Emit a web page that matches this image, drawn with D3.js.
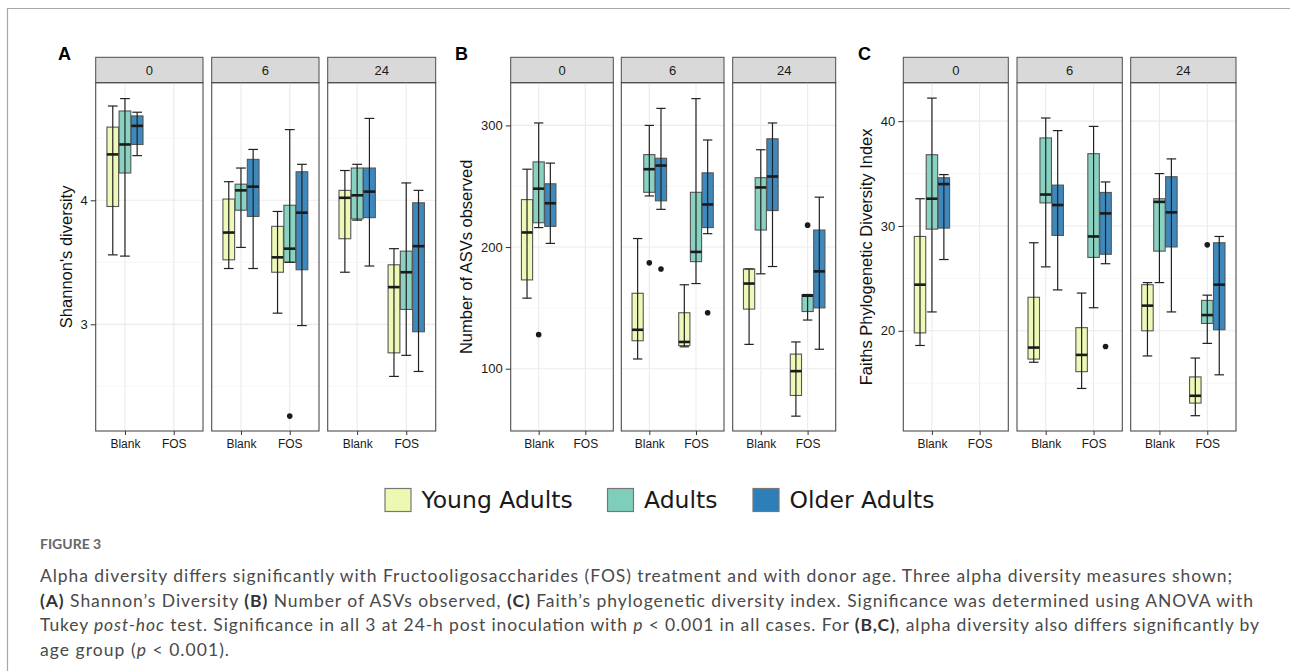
<!DOCTYPE html>
<html>
<head>
<meta charset="utf-8">
<script src="https://cdn.jsdelivr.net/npm/d3@7"></script>
<style>
  html, body { margin: 0; padding: 0; background: #fff; }
  svg { display: block; }
</style>
</head>
<body>
<div id="chart-container"></div>
<script>
// Facets, categories and groups
const times = ["0", "6", "24"];
const treatments = ["Blank", "FOS"];
const groups = ["Young Adults", "Adults", "Older Adults"];
const groupColors = ["#EDF8B1", "#7FCDBB", "#2C7FB8"];

// box stats: [time, treatment, group index, lower whisker, q1, median, q3, upper whisker]
const shannonBoxes = [
  ["0", "Blank", 0, 3.56, 3.95, 4.37, 4.59, 4.76],
  ["0", "Blank", 1, 3.55, 4.22, 4.45, 4.72, 4.82],
  ["0", "Blank", 2, 4.36, 4.45, 4.60, 4.68, 4.71],
  ["6", "Blank", 0, 3.45, 3.52, 3.74, 4.01, 4.15],
  ["6", "Blank", 1, 3.62, 3.92, 4.08, 4.13, 4.26],
  ["6", "Blank", 2, 3.45, 3.87, 4.11, 4.33, 4.41],
  ["6", "FOS", 0, 3.09, 3.42, 3.54, 3.79, 3.91],
  ["6", "FOS", 1, 3.50, 3.50, 3.61, 3.96, 4.57],
  ["6", "FOS", 2, 2.99, 3.44, 3.90, 4.23, 4.29],
  ["24", "Blank", 0, 3.42, 3.69, 4.02, 4.08, 4.24],
  ["24", "Blank", 1, 3.84, 3.85, 4.04, 4.26, 4.29],
  ["24", "Blank", 2, 3.47, 3.86, 4.07, 4.26, 4.66],
  ["24", "FOS", 0, 2.58, 2.77, 3.30, 3.48, 3.61],
  ["24", "FOS", 1, 2.75, 3.12, 3.42, 3.59, 4.14],
  ["24", "FOS", 2, 2.62, 2.94, 3.63, 3.98, 4.08]
];
const shannonOutliers = [["6", "FOS", 1, 2.26]];

const asvBoxes = [
  ["0", "Blank", 0, 158, 173, 212, 239, 264],
  ["0", "Blank", 1, 216, 220, 248, 270, 302],
  ["0", "Blank", 2, 203, 217, 236, 252, 269],
  ["6", "Blank", 0, 108, 123, 132, 162, 207],
  ["6", "Blank", 1, 242, 245, 264, 276, 300],
  ["6", "Blank", 2, 231, 238, 267, 273, 314],
  ["6", "FOS", 0, 118, 119, 122, 146, 169],
  ["6", "FOS", 1, 170, 188, 196, 245, 322],
  ["6", "FOS", 2, 211, 216, 235, 261, 288],
  ["24", "Blank", 0, 120, 149, 170, 182, 182],
  ["24", "Blank", 1, 178, 214, 249, 257, 280],
  ["24", "Blank", 2, 184, 230, 258, 289, 302],
  ["24", "FOS", 0, 61, 78, 98, 112, 122],
  ["24", "FOS", 1, 140, 147, 160, 161, 161],
  ["24", "FOS", 2, 116, 150, 180, 214, 241]
];
const asvOutliers = [
  ["0", "Blank", 1, 128],
  ["6", "Blank", 1, 187],
  ["6", "Blank", 2, 182],
  ["6", "FOS", 2, 146],
  ["24", "FOS", 1, 218]
];

const faithBoxes = [
  ["0", "Blank", 0, 18.6, 19.8, 24.4, 29.0, 32.6],
  ["0", "Blank", 1, 21.8, 29.7, 32.6, 36.8, 42.2],
  ["0", "Blank", 2, 26.8, 29.8, 34.0, 34.6, 34.9],
  ["6", "Blank", 0, 17.0, 17.3, 18.4, 23.2, 28.4],
  ["6", "Blank", 1, 26.1, 32.2, 33.0, 38.4, 40.3],
  ["6", "Blank", 2, 23.9, 29.1, 32.0, 33.9, 39.1],
  ["6", "FOS", 0, 14.5, 16.1, 17.7, 20.3, 23.6],
  ["6", "FOS", 1, 22.2, 27.0, 29.0, 36.9, 39.5],
  ["6", "FOS", 2, 26.4, 27.3, 31.2, 33.2, 34.2],
  ["24", "Blank", 0, 17.6, 20.0, 22.4, 24.4, 24.6],
  ["24", "Blank", 1, 24.6, 27.6, 32.3, 32.6, 35.0],
  ["24", "Blank", 2, 21.8, 28.0, 31.3, 34.7, 36.4],
  ["24", "FOS", 0, 11.9, 13.1, 13.8, 15.6, 17.4],
  ["24", "FOS", 1, 18.8, 20.7, 21.5, 22.9, 23.4],
  ["24", "FOS", 2, 15.8, 20.1, 24.4, 28.4, 29.0]
];
const faithOutliers = [
  ["6", "FOS", 2, 18.5],
  ["24", "FOS", 1, 28.2]
];

// axis ticks
const shannonTicks = [3, 4];
const shannonMinor = [2.5, 3.5, 4.5];
const asvTicks = [100, 200, 300];
const asvMinor = [50, 150, 250];
const faithTicks = [20, 30, 40];
const faithMinor = [15, 25, 35];

const width = 1290, height = 671;
const stripTop = 57.3, plotTop = 82.7, plotBottom = 431;
const axisFont = "'Liberation Sans', Arial, sans-serif";

const svg = d3.select("#chart-container")
  .append("svg")
  .attr("width", width)
  .attr("height", height);

// figure frame (left + top)
svg.append("path")
  .attr("d", `M7.5,${height} V8.5 H${width}`)
  .attr("fill", "none")
  .attr("stroke", "#a8a8a8")
  .attr("stroke-width", 1.2);

function drawMetric(cfg) {
  const y = d3.scaleLinear().domain(cfg.domain).range([plotBottom, plotTop]);

  svg.append("text")
    .attr("x", cfg.labelX)
    .attr("y", 60)
    .style("font-family", axisFont)
    .style("font-weight", "bold")
    .style("font-size", "18px")
    .text(cfg.label);

  svg.append("text")
    .attr("transform", `translate(${cfg.titleX},${(plotTop + plotBottom) / 2}) rotate(-90)`)
    .attr("text-anchor", "middle")
    .style("font-family", axisFont)
    .style("font-size", "16.5px")
    .attr("fill", "#111")
    .text(cfg.title);

  cfg.panelXs.forEach(([x0, x1], i) => {
    const t = times[i];
    const x = d3.scalePoint().domain(treatments).range([x0, x1]).padding(0.6);
    const unit = x.step();
    const g = svg.append("g");

    // strip
    g.append("rect")
      .attr("x", x0).attr("y", stripTop)
      .attr("width", x1 - x0).attr("height", plotTop - stripTop)
      .attr("fill", "#D9D9D9")
      .attr("stroke", "#4d4d4d")
      .attr("stroke-width", 1);
    g.append("text")
      .attr("x", (x0 + x1) / 2)
      .attr("y", (stripTop + plotTop) / 2 + 4.5)
      .attr("text-anchor", "middle")
      .style("font-family", axisFont)
      .style("font-size", "13px")
      .attr("fill", "#1a1a1a")
      .text(t);

    // grid
    g.selectAll(".minor")
      .data(cfg.minor.filter(v => y(v) > plotTop && y(v) < plotBottom))
      .enter().append("line")
      .attr("x1", x0).attr("x2", x1)
      .attr("y1", d => y(d)).attr("y2", d => y(d))
      .attr("stroke", "#F4F4F4").attr("stroke-width", 0.8);
    g.selectAll(".major")
      .data(cfg.ticks)
      .enter().append("line")
      .attr("x1", x0).attr("x2", x1)
      .attr("y1", d => y(d)).attr("y2", d => y(d))
      .attr("stroke", "#EBEBEB").attr("stroke-width", 1.1);
    g.selectAll(".vgrid")
      .data(treatments)
      .enter().append("line")
      .attr("x1", d => x(d)).attr("x2", d => x(d))
      .attr("y1", plotTop).attr("y2", plotBottom)
      .attr("stroke", "#EBEBEB").attr("stroke-width", 1.1);

    // boxes
    const rows = cfg.boxes.filter(b => b[0] === t).map(b => ({
      cx: x(b[1]) + (b[2] - 1) * 0.25 * unit,
      color: groupColors[b[2]],
      lo: b[3], q1: b[4], med: b[5], q3: b[6], hi: b[7]
    }));
    const bw = 0.24 * unit, cap = 0.2 * unit;
    const bg = g.selectAll(".box").data(rows).enter().append("g");
    bg.append("rect")
      .attr("x", d => d.cx - bw / 2)
      .attr("width", bw)
      .attr("y", d => y(d.q3))
      .attr("height", d => y(d.q1) - y(d.q3))
      .attr("fill", d => d.color)
      .attr("fill-opacity", 0.92)
      .attr("stroke", "#555")
      .attr("stroke-width", 1.1);
    bg.append("line")
      .attr("x1", d => d.cx).attr("x2", d => d.cx)
      .attr("y1", d => y(d.hi)).attr("y2", d => y(d.lo))
      .attr("stroke", "#222").attr("stroke-width", 1.2);
    bg.append("line")
      .attr("x1", d => d.cx - cap / 2).attr("x2", d => d.cx + cap / 2)
      .attr("y1", d => y(d.hi)).attr("y2", d => y(d.hi))
      .attr("stroke", "#222").attr("stroke-width", 1.2);
    bg.append("line")
      .attr("x1", d => d.cx - cap / 2).attr("x2", d => d.cx + cap / 2)
      .attr("y1", d => y(d.lo)).attr("y2", d => y(d.lo))
      .attr("stroke", "#222").attr("stroke-width", 1.2);
    bg.append("line")
      .attr("x1", d => d.cx - bw / 2).attr("x2", d => d.cx + bw / 2)
      .attr("y1", d => y(d.med)).attr("y2", d => y(d.med))
      .attr("stroke", "#1a1a1a").attr("stroke-width", 2.6);

    g.selectAll(".outlier")
      .data(cfg.outliers.filter(o => o[0] === t))
      .enter().append("circle")
      .attr("cx", d => x(d[1]) + (d[2] - 1) * 0.25 * unit)
      .attr("cy", d => y(d[3]))
      .attr("r", 2.8)
      .attr("fill", "#1a1a1a");

    // panel border
    g.append("rect")
      .attr("x", x0).attr("y", plotTop)
      .attr("width", x1 - x0).attr("height", plotBottom - plotTop)
      .attr("fill", "none")
      .attr("stroke", "#4d4d4d")
      .attr("stroke-width", 1.1);

    // x axis
    const xa = g.append("g")
      .attr("transform", `translate(0,${plotBottom})`)
      .call(d3.axisBottom(x).tickSize(4).tickPadding(4));
    xa.select(".domain").remove();
    xa.selectAll(".tick line").attr("stroke", "#333");
    xa.selectAll("text")
      .style("font-family", axisFont)
      .style("font-size", "12px")
      .attr("fill", "#1a1a1a");

    // y axis on first panel
    if (i === 0) {
      const ya = g.append("g")
        .attr("transform", `translate(${x0},0)`)
        .call(d3.axisLeft(y).tickValues(cfg.ticks).tickFormat(d3.format("d"))
          .tickSize(5).tickPadding(3));
      ya.select(".domain").remove();
      ya.selectAll(".tick line").attr("stroke", "#333");
      ya.selectAll("text")
        .style("font-family", axisFont)
        .style("font-size", "13px")
        .attr("fill", "#1a1a1a");
    }
  });
}

drawMetric({
  label: "A", labelX: 58, titleX: 72,
  title: "Shannon's diversity",
  panelXs: [[95.7, 203], [211.7, 319], [327.7, 435.7]],
  domain: [2.14, 4.948],
  ticks: shannonTicks, minor: shannonMinor,
  boxes: shannonBoxes, outliers: shannonOutliers
});
drawMetric({
  label: "B", labelX: 455, titleX: 472,
  title: "Number of ASVs observed",
  panelXs: [[510.7, 613.3], [621.3, 724], [732.7, 835.7]],
  domain: [48.8, 335.1],
  ticks: asvTicks, minor: asvMinor,
  boxes: asvBoxes, outliers: asvOutliers
});
drawMetric({
  label: "C", labelX: 858, titleX: 872,
  title: "Faiths Phylogenetic Diversity Index",
  panelXs: [[903.3, 1008.3], [1017, 1122.3], [1130.7, 1236]],
  domain: [10.44, 43.67],
  ticks: faithTicks, minor: faithMinor,
  boxes: faithBoxes, outliers: faithOutliers
});

// legend
const legendX = [385, 607.5, 753];
const legend = svg.append("g").selectAll("g")
  .data(groups)
  .enter().append("g")
  .attr("transform", (d, i) => `translate(${legendX[i]},488.5)`);
legend.append("rect")
  .attr("width", 26).attr("height", 23)
  .attr("fill", (d, i) => groupColors[i])
  .attr("stroke", "#777")
  .attr("stroke-width", 1.2);
legend.append("text")
  .attr("x", 36.5).attr("y", 19)
  .style("font-family", "'DejaVu Sans', Verdana, sans-serif")
  .style("font-size", "23.5px")
  .attr("fill", "#1a1a1a")
  .text(d => d);

// caption
svg.append("text")
  .attr("x", 40).attr("y", 549)
  .style("font-family", "Lato, 'Open Sans', sans-serif")
  .style("font-weight", "bold")
  .style("font-size", "14px")
  .attr("fill", "#666")
  .text("FIGURE 3");

const captionLines = [
  [["Alpha diversity differs significantly with Fructooligosaccharides (FOS) treatment and with donor age. Three alpha diversity measures shown;", ""]],
  [["(A)", "b"], [" Shannon\u2019s Diversity ", ""], ["(B)", "b"], [" Number of ASVs observed, ", ""], ["(C)", "b"],
   [" Faith\u2019s phylogenetic diversity index. Significance was determined using ANOVA with", ""]],
  [["Tukey ", ""], ["post-hoc", "i"], [" test. Significance in all 3 at 24-h post inoculation with ", ""], ["p", "i"],
   [" < 0.001 in all cases. For ", ""], ["(B,C)", "b"], [", alpha diversity also differs significantly by", ""]],
  [["age group (", ""], ["p", "i"], [" < 0.001).", ""]]
];
const captionEnds = [1232, 1253, 1259, 229];

captionLines.forEach((parts, i) => {
  const txt = svg.append("text")
    .attr("x", 40)
    .attr("y", 582 + i * 24.5)
    .attr("textLength", captionEnds[i] - 40)
    .attr("lengthAdjust", "spacing")
    .style("font-family", "Lato, 'Open Sans', sans-serif")
    .style("font-size", "17.5px")
    .attr("fill", "#4a4a4a");
  parts.forEach(([s, st]) => {
    txt.append("tspan")
      .style("font-weight", st === "b" ? "bold" : null)
      .style("font-style", st === "i" ? "italic" : null)
      .attr("fill", st === "b" ? "#333" : null)
      .text(s);
  });
});
</script>
</body>
</html>
